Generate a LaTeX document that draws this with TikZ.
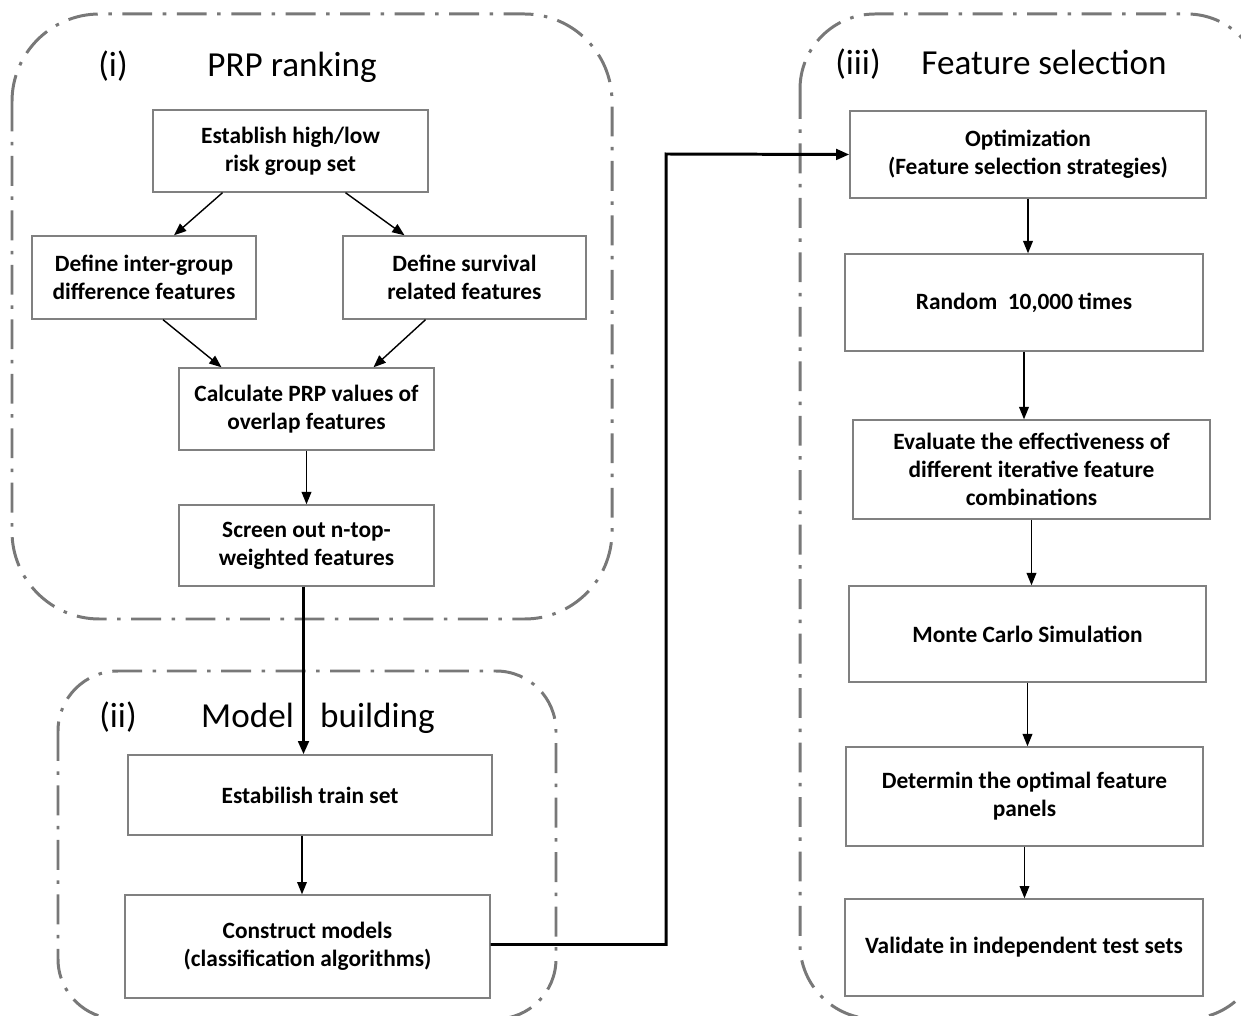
\documentclass[tikz,border=0pt]{standalone}
\usepackage{fontspec}
\setmainfont{Carlito}
\usetikzlibrary{arrows.meta,positioning,calc}
\definecolor{boxgray}{RGB}{128,128,128}
\definecolor{panelgray}{RGB}{120,120,120}

\tikzset{
    panel/.style={draw=panelgray, line width=1.7pt, rounded corners=1.5cm,
        dash pattern=on 17pt off 6pt on 2pt off 6pt},
    procbox/.style 2 args={draw=boxgray, line width=0.8pt, inner sep=0pt, align=center,
        minimum width=#1*0.02cm, minimum height=#2*0.02cm,
        font=\fontsize{13.3}{15.9}\selectfont\bfseries},
    paneltitle/.style={anchor=base, font=\fontsize{20}{24}\selectfont},
    flow/.style={-{Triangle[length=7pt,width=5.5pt]}, line width=0.8pt},
    mainflow/.style={-{Triangle[length=7.5pt,width=6pt]}, line width=1.7pt},
}

\begin{document}
\begin{tikzpicture}[x=0.02cm,y=-0.02cm]
    \useasboundingbox (0,0) rectangle (1241,1016);
    \clip (0,0) rectangle (1241,1016);

    % the three dash-dot panels
    \draw[panel, rounded corners=1.75cm] (12,14) rectangle (612,619);
    \draw[panel, rounded corners=1.2cm] (58,671) rectangle (556,1019);
    \draw[panel] (800,14) rectangle (1262,1019);

    \node[paneltitle] (ttl1a) at (113,77) {(i)};
    \node[paneltitle] (ttl1b) at (292,77) {PRP ranking};
    \node[paneltitle] (ttl2a) at (118,727) {(ii)};
    \node[paneltitle] (ttl2b) at (318,727) {Model\hspace{0.75em}building};
    \node[paneltitle] (ttl3a) at (858,75) {(iii)};
    \node[paneltitle] (ttl3b) at (1044,75) {Feature selection};

    % (i) PRP ranking
    \node[procbox={275}{82}] (riskset) at (290.5,151) {Establish high/low\\risk group set};
    \node[procbox={224}{83}] (interdiff) at (144,277.5) {Define inter-group\\difference features};
    \node[procbox={243}{83}] (survrel) at (464.5,277.5) {Define survival\\related features};
    \node[procbox={255}{82}] (prpval) at (306.5,409) {Calculate PRP values of\\overlap features};
    \node[procbox={255}{81}] (ntop) at (306.5,545.5) {Screen out n-top-\\weighted features};

    % (ii) Model building
    \node[procbox={364}{80}] (trainset) at (310,795) {Estabilish train set};
    \node[procbox={365}{103}] (models) at (307.5,946.5) {Construct models\\(classification algorithms)};

    % (iii) Feature selection
    \node[procbox={356}{87}] (optim) at (1028,154.5) {Optimization\\(Feature selection strategies)};
    \node[procbox={358}{97}] (random) at (1024,302.5) {Random\ \ 10,000 times};
    \node[procbox={357}{99}] (evalcomb) at (1031.5,469.5) {Evaluate the effectiveness of\\different iterative feature\\combinations};
    \node[procbox={357}{96}] (montecarlo) at (1027.5,634) {Monte Carlo Simulation};
    \node[procbox={357}{99}] (panels) at (1024.5,796.5) {Determin the optimal feature\\panels};
    \node[procbox={358}{97}] (validate) at (1024,947.5) {Validate in independent test sets};

    \coordinate (bend) at (666,154);

    % connectors
    \draw[flow] ($(riskset.south)+(-68,0)$) -- ($(interdiff.north)+(30,0)$);
    \draw[flow] ($(riskset.south)+(55,0)$) -- ($(survrel.north)+(-60,0)$);
    \draw[flow] ($(interdiff.south)+(19,0)$) -- ($(prpval.north)+(-85,0)$);
    \draw[flow] ($(survrel.south)+(-39,0)$) -- ($(prpval.north)+(67,0)$);
    \draw[flow] (prpval) -- (ntop);
    \draw[mainflow] ($(ntop.south)+(-3,0)$) -- ($(ntop.south |- trainset.north)+(-3,0)$);
    \draw[flow] ($(trainset.south)+(-8,0)$) -- ($(trainset.south |- models.north)+(-8,0)$);
    \draw[mainflow] ($(models.east)+(0,-2)$) -| (bend) -- (optim.west);
    \draw[flow] (optim.south) -- (optim.south |- random.north);
    \draw[flow] (random.south) -- (random.south |- evalcomb.north);
    \draw[flow] (evalcomb.south) -- (evalcomb.south |- montecarlo.north);
    \draw[flow] (montecarlo.south) -- (montecarlo.south |- panels.north);
    \draw[flow] (panels.south) -- (panels.south |- validate.north);
\end{tikzpicture}
\end{document}
